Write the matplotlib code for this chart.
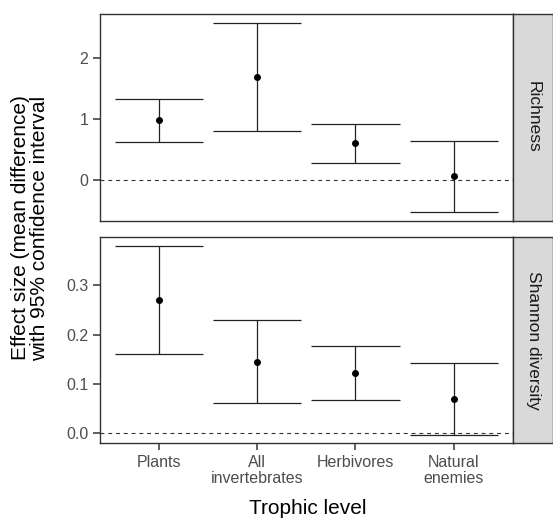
import matplotlib
matplotlib.use("Agg")
import matplotlib.pyplot as plt

plt.rcParams['font.family'] = ['Liberation Sans', 'DejaVu Sans']

# data
groups = ["Plants", "All\ninvertebrates", "Herbivores", "Natural\nenemies"]
panels = ["Richness", "Shannon diversity"]

rich_mean = [0.98, 1.69, 0.60, 0.06]
rich_lo = [0.62, 0.81, 0.28, -0.52]
rich_hi = [1.32, 2.57, 0.92, 0.64]

shan_mean = [0.270, 0.145, 0.123, 0.069]
shan_lo = [0.160, 0.061, 0.067, -0.003]
shan_hi = [0.379, 0.230, 0.177, 0.142]

W, H = 553, 521
fig = plt.figure(figsize=(W / 100, H / 100), dpi=100)

def box(l, t, r, b):
    return [l / W, 1 - b / H, (r - l) / W, (b - t) / H]

ax1 = fig.add_axes(box(100, 14, 512.7, 220.7))
ax2 = fig.add_axes(box(100, 236.7, 512.7, 443.3))
s1 = fig.add_axes(box(513, 14, 553, 220.7))
s2 = fig.add_axes(box(513, 236.7, 553, 443.3))

xs = list(range(1, len(groups) + 1))
dark = "#333333"

def draw(ax, mean, lo, hi, ylim, yticks, ylabels):
    ax.axhline(0, color=dark, lw=0.8, ls=(0, (3.5, 3.5)), zorder=1)
    for x, m, a, b in zip(xs, mean, lo, hi):
        ax.vlines(x, a, b, color="#222222", lw=0.9, zorder=2)
        ax.hlines([a, b], x - 0.45, x + 0.45, color="#222222", lw=0.9, zorder=2)
    ax.scatter(xs, mean, s=16, color="black", zorder=3)
    ax.set_xlim(0.4, 4.6)
    ax.set_ylim(*ylim)
    ax.set_yticks(yticks)
    ax.set_yticklabels(ylabels)
    for sp in ax.spines.values():
        sp.set_color(dark)
        sp.set_linewidth(1.0)
    ax.tick_params(axis="both", colors=dark, labelcolor="#4d4d4d",
                   labelsize=11.5, length=5.2, width=1.1, pad=3.2)

draw(ax1, rich_mean, rich_lo, rich_hi, (-0.667, 2.72), [0, 1, 2], ["0", "1", "2"])
draw(ax2, shan_mean, shan_lo, shan_hi, (-0.0202, 0.398),
     [0.0, 0.1, 0.2, 0.3], ["0.0", "0.1", "0.2", "0.3"])

ax1.set_xticks(xs)
ax1.tick_params(axis="x", bottom=False, labelbottom=False)
ax2.set_xticks(xs)
ax2.set_xticklabels(groups, linespacing=1.05)

for s, name in zip([s1, s2], panels):
    s.set_facecolor("#d9d9d9")
    s.set_xticks([])
    s.set_yticks([])
    for sp in s.spines.values():
        sp.set_color(dark)
        sp.set_linewidth(1.0)
    s.text(0.5, 0.5, name, rotation=-90, ha="center", va="center",
           fontsize=12.5, color="#1a1a1a", transform=s.transAxes)

fig.text(308 / W, 1 - 509 / H, "Trophic level", ha="center", va="center",
         fontsize=15)
fig.text(30 / W, 1 - 228 / H,
         "Effect size (mean difference)\nwith 95% confidence interval",
         rotation=90, ha="center", va="center", fontsize=15,
         linespacing=1.0)

fig.savefig("out.png", dpi=100)
